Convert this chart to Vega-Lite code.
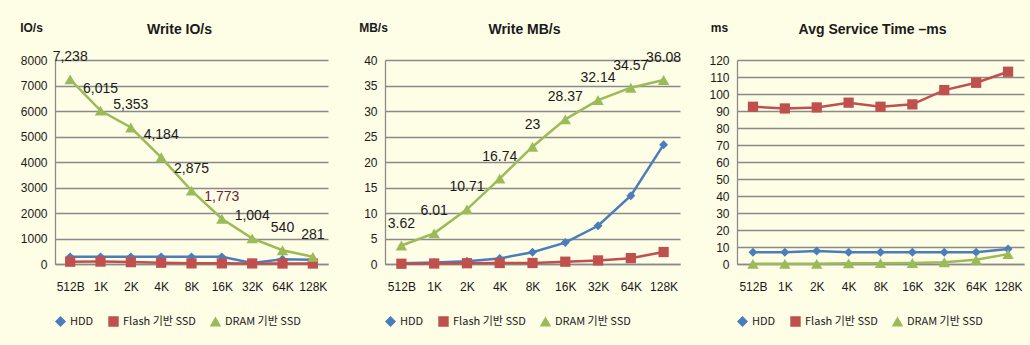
{
  "$schema": "https://vega.github.io/schema/vega-lite/v6.json",
  "background": "#FEFDE6",
  "padding": {"left": 19, "top": 21, "right": 8, "bottom": 18},
  "bounds": "flush",
  "spacing": 57,
  "datasets": {
    "io": [
      {"size": "512B", "series": "HDD", "value": 280},
      {"size": "1K", "series": "HDD", "value": 280},
      {"size": "2K", "series": "HDD", "value": 280},
      {"size": "4K", "series": "HDD", "value": 280},
      {"size": "8K", "series": "HDD", "value": 280},
      {"size": "16K", "series": "HDD", "value": 280},
      {"size": "32K", "series": "HDD", "value": 40},
      {"size": "64K", "series": "HDD", "value": 190},
      {"size": "128K", "series": "HDD", "value": 165},
      {"size": "512B", "series": "Flash 기반 SSD", "value": 90},
      {"size": "1K", "series": "Flash 기반 SSD", "value": 95},
      {"size": "2K", "series": "Flash 기반 SSD", "value": 75},
      {"size": "4K", "series": "Flash 기반 SSD", "value": 50},
      {"size": "8K", "series": "Flash 기반 SSD", "value": 25},
      {"size": "16K", "series": "Flash 기반 SSD", "value": 25},
      {"size": "32K", "series": "Flash 기반 SSD", "value": 22},
      {"size": "64K", "series": "Flash 기반 SSD", "value": 20},
      {"size": "128K", "series": "Flash 기반 SSD", "value": 19},
      {"size": "512B", "series": "DRAM 기반 SSD", "value": 7238},
      {"size": "1K", "series": "DRAM 기반 SSD", "value": 6015},
      {"size": "2K", "series": "DRAM 기반 SSD", "value": 5353},
      {"size": "4K", "series": "DRAM 기반 SSD", "value": 4184},
      {"size": "8K", "series": "DRAM 기반 SSD", "value": 2875},
      {"size": "16K", "series": "DRAM 기반 SSD", "value": 1773},
      {"size": "32K", "series": "DRAM 기반 SSD", "value": 1004},
      {"size": "64K", "series": "DRAM 기반 SSD", "value": 540},
      {"size": "128K", "series": "DRAM 기반 SSD", "value": 281}
    ],
    "mb": [
      {"size": "512B", "series": "HDD", "value": 0.14},
      {"size": "1K", "series": "HDD", "value": 0.28},
      {"size": "2K", "series": "HDD", "value": 0.55},
      {"size": "4K", "series": "HDD", "value": 1.1},
      {"size": "8K", "series": "HDD", "value": 2.3},
      {"size": "16K", "series": "HDD", "value": 4.2},
      {"size": "32K", "series": "HDD", "value": 7.5},
      {"size": "64K", "series": "HDD", "value": 13.4},
      {"size": "128K", "series": "HDD", "value": 23.4},
      {"size": "512B", "series": "Flash 기반 SSD", "value": 0.05},
      {"size": "1K", "series": "Flash 기반 SSD", "value": 0.1},
      {"size": "2K", "series": "Flash 기반 SSD", "value": 0.15},
      {"size": "4K", "series": "Flash 기반 SSD", "value": 0.2},
      {"size": "8K", "series": "Flash 기반 SSD", "value": 0.2},
      {"size": "16K", "series": "Flash 기반 SSD", "value": 0.45},
      {"size": "32K", "series": "Flash 기반 SSD", "value": 0.7},
      {"size": "64K", "series": "Flash 기반 SSD", "value": 1.15},
      {"size": "128K", "series": "Flash 기반 SSD", "value": 2.35},
      {"size": "512B", "series": "DRAM 기반 SSD", "value": 3.62},
      {"size": "1K", "series": "DRAM 기반 SSD", "value": 6.01},
      {"size": "2K", "series": "DRAM 기반 SSD", "value": 10.71},
      {"size": "4K", "series": "DRAM 기반 SSD", "value": 16.74},
      {"size": "8K", "series": "DRAM 기반 SSD", "value": 23},
      {"size": "16K", "series": "DRAM 기반 SSD", "value": 28.37},
      {"size": "32K", "series": "DRAM 기반 SSD", "value": 32.14},
      {"size": "64K", "series": "DRAM 기반 SSD", "value": 34.57},
      {"size": "128K", "series": "DRAM 기반 SSD", "value": 36.08}
    ],
    "ms": [
      {"size": "512B", "series": "HDD", "value": 6.9},
      {"size": "1K", "series": "HDD", "value": 6.9},
      {"size": "2K", "series": "HDD", "value": 7.6},
      {"size": "4K", "series": "HDD", "value": 6.9},
      {"size": "8K", "series": "HDD", "value": 6.9},
      {"size": "16K", "series": "HDD", "value": 6.9},
      {"size": "32K", "series": "HDD", "value": 6.9},
      {"size": "64K", "series": "HDD", "value": 6.9},
      {"size": "128K", "series": "HDD", "value": 8.8},
      {"size": "512B", "series": "Flash 기반 SSD", "value": 92.5},
      {"size": "1K", "series": "Flash 기반 SSD", "value": 91.5},
      {"size": "2K", "series": "Flash 기반 SSD", "value": 92.1},
      {"size": "4K", "series": "Flash 기반 SSD", "value": 94.9},
      {"size": "8K", "series": "Flash 기반 SSD", "value": 92.5},
      {"size": "16K", "series": "Flash 기반 SSD", "value": 93.9},
      {"size": "32K", "series": "Flash 기반 SSD", "value": 102.3},
      {"size": "64K", "series": "Flash 기반 SSD", "value": 106.6},
      {"size": "128K", "series": "Flash 기반 SSD", "value": 113.1},
      {"size": "512B", "series": "DRAM 기반 SSD", "value": 0.1},
      {"size": "1K", "series": "DRAM 기반 SSD", "value": 0.1},
      {"size": "2K", "series": "DRAM 기반 SSD", "value": 0.1},
      {"size": "4K", "series": "DRAM 기반 SSD", "value": 0.4},
      {"size": "8K", "series": "DRAM 기반 SSD", "value": 0.5},
      {"size": "16K", "series": "DRAM 기반 SSD", "value": 0.6},
      {"size": "32K", "series": "DRAM 기반 SSD", "value": 1.0},
      {"size": "64K", "series": "DRAM 기반 SSD", "value": 2.5},
      {"size": "128K", "series": "DRAM 기반 SSD", "value": 5.8}
    ]
  },
  "resolve": {
    "scale": {"color": "independent", "shape": "independent"},
    "legend": {"color": "independent", "shape": "independent"}
  },
  "hconcat": [
    {
      "width": 273,
      "height": 204,
      "data": {"name": "io"},
      "title": {"text": "Write IO/s", "offset": -16, "dx": -12},
      "encoding": {
        "x": {"field": "size", "type": "ordinal", "sort": ["512B", "1K", "2K", "4K", "8K", "16K", "32K", "64K", "128K"], "title": null},
        "y": {"field": "value", "type": "quantitative", "scale": {"domain": [0, 8000]}, "axis": {"values": [0, 1000, 2000, 3000, 4000, 5000, 6000, 7000, 8000], "format": "d", "title": "IO/s", "titleX": -24}}
      },
      "layer": [
        {
          "mark": {"type": "line", "strokeWidth": 2.5},
          "encoding": {
            "color": {"field": "series", "type": "nominal", "sort": ["HDD", "Flash 기반 SSD", "DRAM 기반 SSD"], "scale": {"domain": ["HDD", "Flash 기반 SSD", "DRAM 기반 SSD"], "range": ["#4A7EBB", "#C0504D", "#9BBB59"]}}
          }
        },
        {
          "mark": {"type": "point", "filled": true, "opacity": 1},
          "encoding": {
            "color": {"field": "series", "type": "nominal", "sort": ["HDD", "Flash 기반 SSD", "DRAM 기반 SSD"], "scale": {"domain": ["HDD", "Flash 기반 SSD", "DRAM 기반 SSD"], "range": ["#4A7EBB", "#C0504D", "#9BBB59"]}},
            "shape": {"field": "series", "type": "nominal", "sort": ["HDD", "Flash 기반 SSD", "DRAM 기반 SSD"], "scale": {"domain": ["HDD", "Flash 기반 SSD", "DRAM 기반 SSD"], "range": ["diamond", "square", "triangle-up"]}},
            "size": {"field": "series", "type": "nominal", "legend": null, "scale": {"domain": ["HDD", "Flash 기반 SSD", "DRAM 기반 SSD"], "range": [80, 130, 110]}}
          }
        },
        {
          "transform": [{"filter": "datum.series === 'DRAM 기반 SSD'"}],
          "mark": {"type": "text", "dy": -22, "fontSize": 14, "baseline": "middle"},
          "encoding": {
            "text": {"field": "value", "type": "quantitative", "format": ","},
            "color": {"condition": {"test": "datum.size === '16K'", "value": "#6B2437"}, "value": "#1a1a1a"}
          }
        }
      ]
    },
    {
      "width": 295,
      "height": 204,
      "data": {"name": "mb"},
      "title": {"text": "Write MB/s", "offset": -16, "dx": -8},
      "encoding": {
        "x": {"field": "size", "type": "ordinal", "sort": ["512B", "1K", "2K", "4K", "8K", "16K", "32K", "64K", "128K"], "title": null},
        "y": {"field": "value", "type": "quantitative", "scale": {"domain": [0, 40]}, "axis": {"values": [0, 5, 10, 15, 20, 25, 30, 35, 40], "title": "MB/s", "titleX": -12}}
      },
      "layer": [
        {
          "mark": {"type": "line", "strokeWidth": 2.5},
          "encoding": {
            "color": {"field": "series", "type": "nominal", "sort": ["HDD", "Flash 기반 SSD", "DRAM 기반 SSD"], "scale": {"domain": ["HDD", "Flash 기반 SSD", "DRAM 기반 SSD"], "range": ["#4A7EBB", "#C0504D", "#9BBB59"]}}
          }
        },
        {
          "mark": {"type": "point", "filled": true, "opacity": 1},
          "encoding": {
            "color": {"field": "series", "type": "nominal", "sort": ["HDD", "Flash 기반 SSD", "DRAM 기반 SSD"], "scale": {"domain": ["HDD", "Flash 기반 SSD", "DRAM 기반 SSD"], "range": ["#4A7EBB", "#C0504D", "#9BBB59"]}},
            "shape": {"field": "series", "type": "nominal", "sort": ["HDD", "Flash 기반 SSD", "DRAM 기반 SSD"], "scale": {"domain": ["HDD", "Flash 기반 SSD", "DRAM 기반 SSD"], "range": ["diamond", "square", "triangle-up"]}},
            "size": {"field": "series", "type": "nominal", "legend": null, "scale": {"domain": ["HDD", "Flash 기반 SSD", "DRAM 기반 SSD"], "range": [80, 130, 110]}}
          }
        },
        {
          "transform": [{"filter": "datum.series === 'DRAM 기반 SSD'"}],
          "mark": {"type": "text", "dy": -22, "fontSize": 14, "baseline": "middle", "color": "#1a1a1a"},
          "encoding": {
            "text": {"field": "value", "type": "nominal"}
          }
        }
      ]
    },
    {
      "width": 287,
      "height": 204,
      "data": {"name": "ms"},
      "title": {"text": "Avg Service Time –ms", "offset": -16, "dx": -8},
      "encoding": {
        "x": {"field": "size", "type": "ordinal", "sort": ["512B", "1K", "2K", "4K", "8K", "16K", "32K", "64K", "128K"], "title": null},
        "y": {"field": "value", "type": "quantitative", "scale": {"domain": [0, 120]}, "axis": {"values": [0, 10, 20, 30, 40, 50, 60, 70, 80, 90, 100, 110, 120], "title": "ms", "titleX": -18}}
      },
      "layer": [
        {
          "mark": {"type": "line", "strokeWidth": 2.5},
          "encoding": {
            "color": {"field": "series", "type": "nominal", "sort": ["HDD", "Flash 기반 SSD", "DRAM 기반 SSD"], "scale": {"domain": ["HDD", "Flash 기반 SSD", "DRAM 기반 SSD"], "range": ["#4A7EBB", "#C0504D", "#9BBB59"]}}
          }
        },
        {
          "mark": {"type": "point", "filled": true, "opacity": 1},
          "encoding": {
            "color": {"field": "series", "type": "nominal", "sort": ["HDD", "Flash 기반 SSD", "DRAM 기반 SSD"], "scale": {"domain": ["HDD", "Flash 기반 SSD", "DRAM 기반 SSD"], "range": ["#4A7EBB", "#C0504D", "#9BBB59"]}},
            "shape": {"field": "series", "type": "nominal", "sort": ["HDD", "Flash 기반 SSD", "DRAM 기반 SSD"], "scale": {"domain": ["HDD", "Flash 기반 SSD", "DRAM 기반 SSD"], "range": ["diamond", "square", "triangle-up"]}},
            "size": {"field": "series", "type": "nominal", "legend": null, "scale": {"domain": ["HDD", "Flash 기반 SSD", "DRAM 기반 SSD"], "range": [80, 150, 110]}}
          }
        }
      ]
    }
  ],
  "config": {
    "font": "Liberation Sans Narrow, Liberation Sans, Noto Sans CJK KR, sans-serif",
    "view": {"stroke": null},
    "title": {"fontSize": 14, "fontWeight": "bold", "color": "#1a1a1a", "anchor": "middle"},
    "axisY": {
      "grid": true, "gridColor": "#8a8a8a", "gridWidth": 1.3,
      "domain": true, "domainColor": "#8a8a8a", "domainWidth": 1.3,
      "ticks": false, "labelFontSize": 12, "labelColor": "#1a1a1a", "labelPadding": 8,
      "titleAngle": 0, "titleFontWeight": "bold", "titleFontSize": 12, "titleColor": "#1a1a1a",
      "titleAlign": "center", "titleBaseline": "middle", "titleY": -33
    },
    "axisX": {
      "grid": false, "ticks": false, "domain": true, "domainColor": "#8a8a8a", "domainWidth": 1.3,
      "labelAngle": 0, "labelPadding": 17, "labelFontSize": 12, "labelColor": "#1a1a1a"
    },
    "legend": {
      "orient": "bottom", "direction": "horizontal", "title": null,
      "labelFontSize": 11, "labelColor": "#1a1a1a", "symbolSize": 80, "columnPadding": 12, "offset": 24,
      "labelFont": "Liberation Sans Narrow, Noto Sans CJK KR, sans-serif"
    }
  }
}
